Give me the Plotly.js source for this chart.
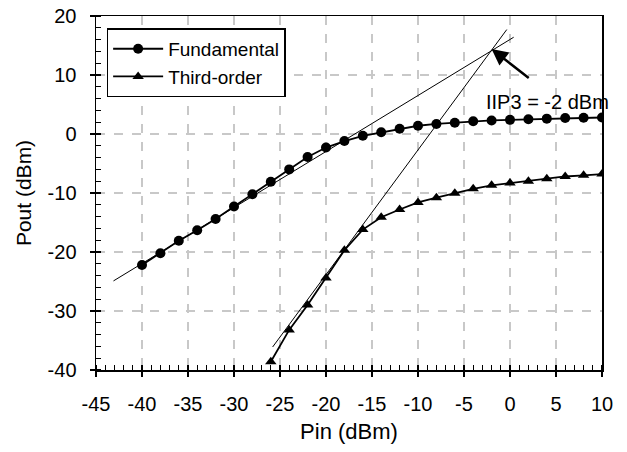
<!DOCTYPE html>
<html>
<head>
<meta charset="utf-8">
<script src="https://cdn.plot.ly/plotly-3.0.1.min.js"></script>
<style>html,body{margin:0;padding:0;background:#fff;}#chart{width:627px;height:452px;}</style>
</head>
<body>
<div id="chart"></div>
<script>
// Fundamental output vs input power
const pinFund = [-40,-38,-36,-34,-32,-30,-28,-26,-24,-22,-20,-18,-16,-14,-12,-10,-8,-6,-4,-2,0,2,4,6,8,10];
const poutFund = [-22.2,-20.2,-18.1,-16.3,-14.4,-12.3,-10.2,-8.1,-6.0,-3.9,-2.3,-1.2,-0.3,0.3,0.9,1.4,1.7,1.9,2.15,2.3,2.4,2.5,2.6,2.7,2.75,2.8];
// Third-order intermod output
const pinThird = [-26,-24,-22,-20,-18,-16,-14,-12,-10,-8,-6,-4,-2,0,2,4,6,8,10];
const poutThird = [-38.6,-33.2,-29.0,-24.4,-19.7,-16.2,-14.1,-12.8,-11.6,-10.8,-10.05,-9.3,-8.7,-8.3,-8.0,-7.6,-7.2,-7.0,-6.8];
// Extrapolation lines
const extFundX = [-43.1, 0.4];
const extFundY = [-24.9, 16.4];
const extThirdX = [-25.8, -0.35];
const extThirdY = [-36.1, 17.7];
// IIP3 annotation
const iip3Point = [-2.0, 14.4];
const arrowTail = [2.2, 9.3];
const labelPos = [4.1, 5.5];
const labelText = 'IIP3 = -2 dBm';

const xTicks = [-45,-40,-35,-30,-25,-20,-15,-10,-5,0,5,10];
const yTicks = [-40,-30,-20,-10,0,10,20];

const FONT = 'Arial, "Liberation Sans", sans-serif';

const traces = [
  {x: extFundX, y: extFundY, mode: 'lines', line: {color: '#000', width: 1}, showlegend: false, hoverinfo: 'skip'},
  {x: extThirdX, y: extThirdY, mode: 'lines', line: {color: '#000', width: 1}, showlegend: false, hoverinfo: 'skip'},
  {x: pinFund, y: poutFund, name: 'Fundamental', mode: 'lines+markers',
   line: {color: '#000', width: 1.8}, marker: {symbol: 'circle', size: 10, color: '#000'}},
  {x: pinThird, y: poutThird, name: 'Third-order', mode: 'lines+markers',
   line: {color: '#000', width: 1.8}, marker: {symbol: 'triangle-up', size: 10, color: '#000'}}
];

const axisCommon = {
  showline: true, linecolor: '#000', linewidth: 1.5, mirror: true,
  zeroline: false,
  showgrid: true, gridcolor: '#c8c8c8', griddash: 'dash', gridwidth: 1.3,
  ticks: 'outside', ticklen: 5, tickwidth: 1.3, tickcolor: '#000',
  tickfont: {family: FONT, size: 20, color: '#000'}
};

const layout = {
  width: 627, height: 452,
  margin: {l: 96, r: 25, t: 16, b: 82},
  paper_bgcolor: '#fff', plot_bgcolor: '#fff',
  font: {family: FONT, color: '#000'},
  xaxis: Object.assign({}, axisCommon, {
    range: [-45, 10], tickvals: xTicks, ticktext: xTicks.map(String),
    ticklabelstandoff: 10,
    minor: {dtick: 1, ticks: 'inside', ticklen: 5, tickwidth: 1.2, tickcolor: '#000', showgrid: false},
    title: {text: 'Pin (dBm)', font: {family: FONT, size: 22}, standoff: 10}
  }),
  yaxis: Object.assign({}, axisCommon, {
    range: [-40, 20], tickvals: yTicks, ticktext: yTicks.map(String),
    ticklabelstandoff: 9,
    minor: {dtick: 2, ticks: 'inside', ticklen: 5, tickwidth: 1.2, tickcolor: '#000', showgrid: false},
    title: {text: 'Pout (dBm)', font: {family: FONT, size: 21}, standoff: 10}
  }),
  xaxis2: {overlaying: 'x', matches: 'x', range: [-45, 10], tickvals: xTicks, ticks: 'inside', ticklen: 5,
           tickwidth: 1.3, tickcolor: '#000', showticklabels: false, showgrid: false, zeroline: false, showline: false, side: 'bottom'},
  yaxis2: {overlaying: 'y', matches: 'y', range: [-40, 20], tickvals: yTicks, ticks: 'inside', ticklen: 5,
           tickwidth: 1.3, tickcolor: '#000', showticklabels: false, showgrid: false, zeroline: false, showline: false, side: 'left'},
  legend: {x: 0.021, y: 0.965, xanchor: 'left', yanchor: 'top',
           bgcolor: '#fff', bordercolor: '#000', borderwidth: 1.5,
           font: {family: FONT, size: 19, color: '#000'}, tracegroupgap: 0, itemwidth: 50},
  annotations: [
    {x: iip3Point[0], y: iip3Point[1], xref: 'x', yref: 'y', axref: 'x', ayref: 'y',
     ax: arrowTail[0], ay: arrowTail[1], text: '', showarrow: true,
     arrowhead: 2, arrowsize: 1.3, arrowwidth: 2.5, arrowcolor: '#000'},
    {x: labelPos[0], y: labelPos[1], xref: 'x', yref: 'y', text: labelText, showarrow: false,
     font: {family: FONT, size: 20, color: '#000'}}
  ]
};

// dummy trace to activate overlay axes for crossing major ticks
traces.push({x: [pinFund[0]], y: [poutFund[0]], xaxis: 'x2', yaxis: 'y2', mode: 'markers',
             marker: {opacity: 0}, showlegend: false, hoverinfo: 'skip'});

Plotly.newPlot('chart', traces, layout, {displayModeBar: false, staticPlot: true});
</script>
</body>
</html>
